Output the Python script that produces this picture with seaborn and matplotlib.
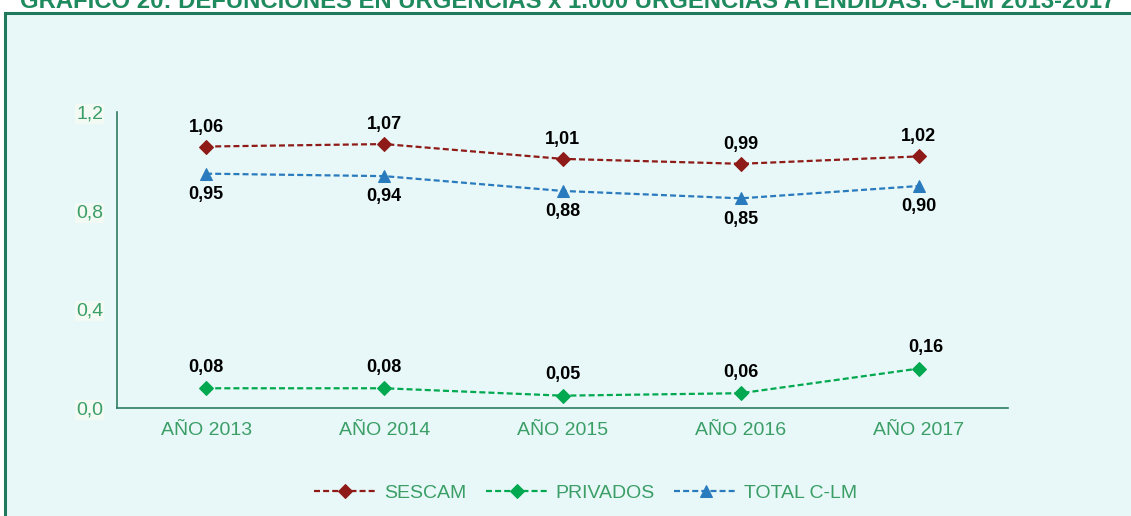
import matplotlib
matplotlib.use("Agg")
import matplotlib.pyplot as plt
import seaborn as sns
import pandas as pd
from matplotlib.patches import Rectangle
from matplotlib.ticker import FixedLocator

categories = ["AÑO 2013", "AÑO 2014", "AÑO 2015", "AÑO 2016", "AÑO 2017"]
sescam = [1.06, 1.07, 1.01, 0.99, 1.02]
privados = [0.08, 0.08, 0.05, 0.06, 0.16]
total = [0.95, 0.94, 0.88, 0.85, 0.90]
series_names = ["SESCAM", "PRIVADOS", "TOTAL C-LM"]
yticks = [0.0, 0.4, 0.8, 1.2]
title = "GRÁFICO 20: DEFUNCIONES EN URGENCIAS x 1.000 URGENCIAS ATENDIDAS. C-LM 2013-2017"

sns.set_style("white")
plt.rcParams["font.family"] = ["Liberation Sans", "DejaVu Sans"]

green_txt = "#3A9E66"
spine_col = "#2E7D62"
colors = {"SESCAM": "#8E1B17", "PRIVADOS": "#00A84F", "TOTAL C-LM": "#2A7BBE"}
markers = {"SESCAM": "D", "PRIVADOS": "D", "TOTAL C-LM": "^"}
msize = {"SESCAM": 7, "PRIVADOS": 7, "TOTAL C-LM": 9}

fig = plt.figure(figsize=(11.31, 5.16), dpi=100, facecolor="white")
# background frame
fig.patches.append(Rectangle((5 / 1131, -0.05), 1.1, 1 - 13 / 516 + 0.05,
                             transform=fig.transFigure, facecolor="#E8F8F8",
                             edgecolor="#1F7A5C", linewidth=2.2, zorder=-5))
fig.text(0.502, 1 - 8 / 516, title, ha="center", va="baseline",
         fontsize=17.2, fontweight="bold", color="#1E8A5E",
         family=["Liberation Sans", "DejaVu Sans"])

ax = fig.add_axes([117 / 1131, 1 - 408 / 516, (1008 - 117) / 1131, (408 - 112) / 516])
ax.set_facecolor("none")
ax.set_zorder(2)

df = pd.DataFrame({
    "cat": categories * 3,
    "x": list(range(len(categories))) * 3,
    "val": sescam + privados + total,
    "serie": [series_names[0]] * 5 + [series_names[1]] * 5 + [series_names[2]] * 5,
})

for name in series_names:
    sub = df[df["serie"] == name]
    sns.lineplot(data=sub, x="x", y="val", ax=ax, color=colors[name],
                 marker=markers[name], markersize=msize[name],
                 markeredgecolor=colors[name], linestyle=(0, (2.7, 1.4)),
                 linewidth=1.6, label=name, legend=False)

# data labels
for i, v in enumerate(sescam):
    ax.annotate(f"{v:.2f}".replace(".", ","), (i, v), xytext=(0, 14),
                textcoords="offset points", ha="center", va="center",
                fontsize=13, fontweight="bold", color="black")
for i, v in enumerate(total):
    ax.annotate(f"{v:.2f}".replace(".", ","), (i, v), xytext=(0, -15),
                textcoords="offset points", ha="center", va="center",
                fontsize=13, fontweight="bold", color="black")
for i, v in enumerate(privados):
    dx = 5 if i == 4 else 0
    ax.annotate(f"{v:.2f}".replace(".", ","), (i, v), xytext=(dx, 15),
                textcoords="offset points", ha="center", va="center",
                fontsize=13, fontweight="bold", color="black")

ax.set_xlim(-0.5, len(categories) - 0.5)
ax.set_ylim(0, 1.2)
ax.set_yticks(yticks)
ax.set_yticklabels([f"{t:.1f}".replace(".", ",") for t in yticks],
                   fontsize=14, color=green_txt)
for lbl in ax.get_yticklabels():
    lbl.set_bbox(dict(facecolor="#F2FAF3", edgecolor="none", pad=1))
ax.set_xticks(range(len(categories)))
ax.set_xticklabels(categories, fontsize=14, color=green_txt)
ax.xaxis.set_minor_locator(FixedLocator([i - 0.5 for i in range(len(categories) + 1)]))
ax.tick_params(axis="x", which="major", length=0, pad=10)
ax.tick_params(axis="x", which="minor", length=4, color="#8CC0A8", direction="out")
ax.tick_params(axis="y", length=4, color="#8CC0A8", direction="out", pad=6)
ax.set_xlabel("")
ax.set_ylabel("")
for s in ["top", "right"]:
    ax.spines[s].set_visible(False)
for s in ["left", "bottom"]:
    ax.spines[s].set_color(spine_col)
    ax.spines[s].set_linewidth(1.2)

handles, labels = ax.get_legend_handles_labels()
leg = fig.legend(handles, labels, loc="center", bbox_to_anchor=(0.518, 1 - 493 / 516),
                 ncol=3, frameon=False, fontsize=14, handlelength=3.2,
                 columnspacing=1.0, handletextpad=0.4)
for t in leg.get_texts():
    t.set_color(green_txt)

fig.savefig("out.png", dpi=100, facecolor="white")
